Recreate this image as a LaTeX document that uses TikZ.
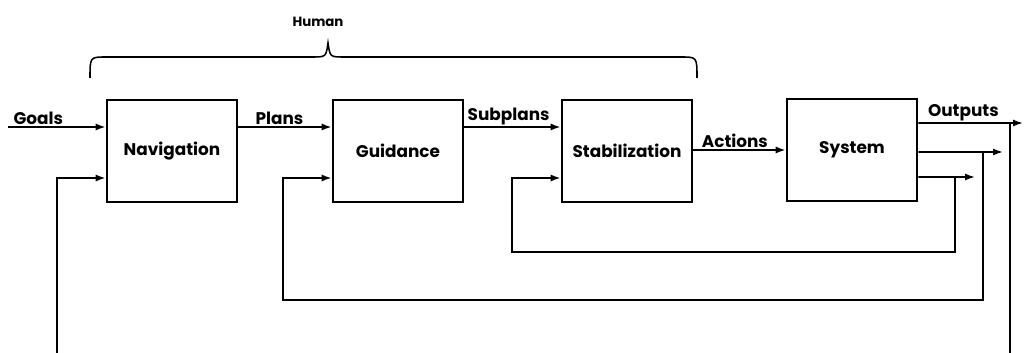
\documentclass[tikz,border=0pt]{standalone}
\usepackage{fontspec}
\setmainfont{Poppins}
\usetikzlibrary{arrows.meta, positioning}

\begin{document}
\begin{tikzpicture}[x=0.025cm, y=-0.025cm, >={Latex[length=7pt,width=5pt]}, line width=1.2pt,
  font=\bfseries\fontsize{12}{14}\selectfont]
  \tikzset{block/.style={draw, line width=2pt, minimum width=3.25cm, minimum height=2.55cm, inner sep=0pt},
    sig/.style={anchor=south, inner sep=1pt}}
  \useasboundingbox (0,0) rectangle (1024,353);

  % the four stages of the loop
  \node[block] at (172,151) (nav) {Navigation};
  \node[block] at (398,151) (guid) {Guidance};
  \node[block] at (627,151) (stab) {Stabilization};
  \node[block] at (852,150) (sys) {System};

  \coordinate (goals) at (8,127);
  \coordinate (out1) at (1023,123);
  \coordinate (out2) at (1003,152);
  \coordinate (out3) at (975,177);
  \coordinate (tap1) at (1010,123);
  \coordinate (tap2) at (983,152);
  \coordinate (tap3) at (955,177);
  \coordinate (loopL) at (57,353);
  \coordinate (loopR) at (1010,353);

  % forward path
  \draw[->] (goals) -- node[sig, pos=0.31] {Goals} (nav.west |- goals);
  \draw[->] ([yshift=0.6cm]nav.east) -- node[sig, pos=0.44] {Plans} ([yshift=0.6cm]guid.west);
  \draw[->] ([yshift=0.6cm]guid.east) -- node[sig, pos=0.46] {Subplans} ([yshift=0.6cm]stab.west);
  \draw[->] (stab.east |- sys.west) -- node[sig, pos=0.45] {Actions} (sys.west);
  \draw[->] ([yshift=0.675cm]sys.east) -- node[sig, pos=0.43] {Outputs} (out1);
  \draw[->] ([yshift=-0.05cm]sys.east) -- (out2);
  \draw[->] ([yshift=-0.675cm]sys.east) -- (out3);

  % feedback loops
  \draw[->] (tap3) |- (512,252) |- ([yshift=-0.675cm]stab.west);
  \draw[->] (tap2) |- (283,300) |- ([yshift=-0.675cm]guid.west);
  \draw (tap1) -- (loopR);
  \draw[->] (loopL) |- ([yshift=-0.675cm]nav.west);

  % operator brace
  \draw[line width=1.1pt] (90,78) .. controls (90,57) .. (106,57) -- (312,57)
    .. controls (326,57) .. (328,43) .. controls (330,57) .. (344,57) -- (681,57)
    .. controls (697,57) .. (697,78);
  \node[font=\bfseries\fontsize{9.5}{11}\selectfont] at (318,22) (human) {Human};
\end{tikzpicture}
\end{document}
